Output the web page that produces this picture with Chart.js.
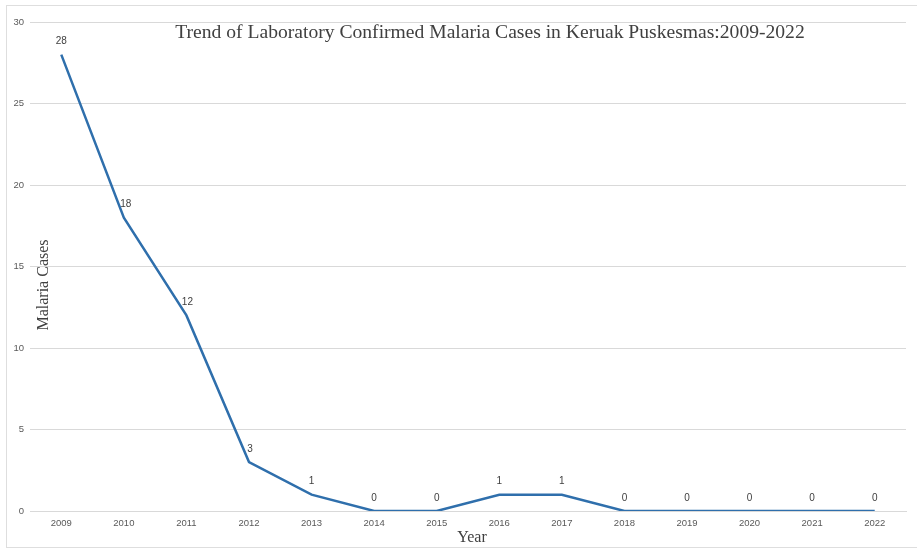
<!DOCTYPE html>
<html>
<head>
<meta charset="utf-8">
<script src="https://cdn.jsdelivr.net/npm/chart.js@4/dist/chart.umd.min.js"></script>
<style>
html,body{margin:0;padding:0;background:#fff;}
#wrap{width:917px;height:551px;position:relative;}
</style>
</head>
<body>
<div id="wrap"><canvas id="c" width="917" height="551"></canvas></div>
<script>
const years = ['2009','2010','2011','2012','2013','2014','2015','2016','2017','2018','2019','2020','2021','2022'];
const malariaCases = [28,18,12,3,1,0,0,1,1,0,0,0,0,0];
const yTicks = [0,5,10,15,20,25,30];
const chartTitle = 'Trend of Laboratory Confirmed Malaria Cases in Keruak Puskesmas:2009-2022';
const yTitle = 'Malaria Cases';
const xTitle = 'Year';

const overlay = {
  id: 'overlay',
  beforeDraw(chart) {
    const ctx = chart.ctx;
    ctx.save();
    ctx.fillStyle = '#ffffff';
    ctx.fillRect(0, 0, chart.width, chart.height);
    ctx.strokeStyle = '#dedede';
    ctx.lineWidth = 1;
    ctx.strokeRect(6.5, 5.5, chart.width - 6, 542);
    ctx.restore();
  },
  afterDatasetsDraw(chart) {
    const ctx = chart.ctx;
    const meta = chart.getDatasetMeta(0);
    ctx.save();
    ctx.fillStyle = '#404040';
    ctx.font = '10px "Liberation Sans", Arial, sans-serif';
    ctx.textAlign = 'center';
    ctx.textBaseline = 'middle';
    meta.data.forEach((pt, i) => {
      let dx = 0;
      if (i === 1) dx = 2;
      if (i === 2 || i === 3) dx = 1;
      ctx.fillText(String(malariaCases[i]), pt.x + dx, pt.y - 13);
    });
    // titles
    ctx.fillStyle = '#404040';
    ctx.font = '19.6px "Liberation Serif", "Times New Roman", serif';
    ctx.textAlign = 'center';
    ctx.fillText(chartTitle, 490, 33);
    ctx.font = '16px "Liberation Serif", "Times New Roman", serif';
    ctx.fillText(xTitle, 472, 538);
    ctx.translate(44, 285);
    ctx.rotate(-Math.PI / 2);
    ctx.fillText(yTitle, 0, 0);
    ctx.restore();
  }
};

new Chart(document.getElementById('c'), {
  type: 'line',
  data: {
    labels: years,
    datasets: [{
      data: malariaCases,
      borderColor: '#2f6fac',
      borderWidth: 2.5,
      pointRadius: 0,
      tension: 0,
      fill: false
    }]
  },
  options: {
    responsive: false,
    animation: false,
    layout: { padding: { top: 22, right: 11, left: 0, bottom: 0 } },
    plugins: { legend: { display: false }, tooltip: { enabled: false }, title: { display: false } },
    scales: {
      x: {
        offset: true,
        grid: { display: false, drawTicks: false },
        border: { display: true, color: '#d9d9d9', width: 1 },
        ticks: { color: '#595959', font: { size: 9.5, family: '"Liberation Sans", Arial, sans-serif' }, padding: 7, maxRotation: 0, autoSkip: false },
        afterFit(scale) { scale.height = 40; }
      },
      y: {
        min: 0, max: 30,
        afterBuildTicks(scale) { scale.ticks = yTicks.map(v => ({ value: v })); },
        grid: { color: '#d9d9d9', drawTicks: false, lineWidth: 1 },
        border: { display: false },
        ticks: { color: '#595959', font: { size: 9.5, family: '"Liberation Sans", Arial, sans-serif' }, padding: 6 },
        afterFit(scale) { scale.width = 30; }
      }
    }
  },
  plugins: [overlay]
});
</script>
</body>
</html>
